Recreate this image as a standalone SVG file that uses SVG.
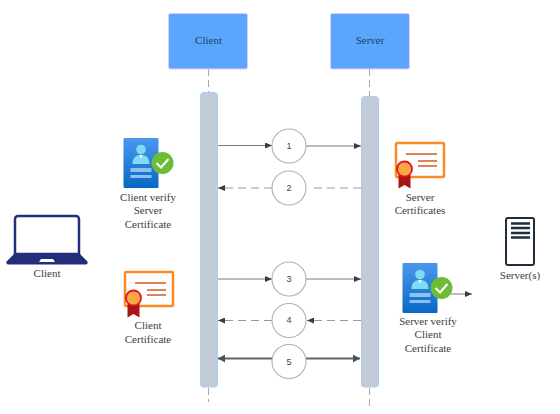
<svg xmlns="http://www.w3.org/2000/svg" width="560" height="414" viewBox="0 0 560 414">
<style>
text{font-family:"Liberation Serif","Times New Roman",serif;font-size:11px;fill:#3e3e3e;text-anchor:middle}
.hd{fill:#5aa5fd;stroke:#e8c8f8;stroke-width:1}
.bar{fill:#c3ccd6;stroke:#a5cdf5;stroke-width:1}
.life{stroke:#a8a8a8;stroke-width:1;stroke-dasharray:7 4;fill:none}
.c{fill:#fff;stroke:#b0b0b0;stroke-width:1.100}
.s{stroke:#7a7a7a;stroke-width:1;fill:none}
.d{stroke:#9a9a9a;stroke-width:1;stroke-dasharray:8 5;fill:none}
.t{stroke:#5c6670;stroke-width:2;fill:none}
.n{font-family:"Liberation Sans",Arial,sans-serif;font-size:9px;fill:#444}
</style>
<defs>
<marker id="a" markerWidth="8" markerHeight="6" refX="7" refY="3" orient="auto" markerUnits="userSpaceOnUse"><path d="M0 0L7 3L0 6z" fill="#3c3c3c"/></marker>
<marker id="b" markerWidth="8" markerHeight="8" refX="7" refY="4" orient="auto" markerUnits="userSpaceOnUse"><path d="M0 0L7 4L0 8z" fill="#4a545e"/></marker>
<linearGradient id="g" x1="0" y1="0" x2="0" y2="1"><stop offset="0" stop-color="#4a98ee"/><stop offset="1" stop-color="#0868c4"/></linearGradient>
<g id="verify">
<rect x="0" y="0" width="35" height="50" rx="1" fill="url(#g)"/>
<circle cx="17.500" cy="11.500" r="4.800" fill="#7fdcf5"/>
<path d="M9 26c0-6 3-9 8.500-9s8.500 3 8.500 9z" fill="#7fdcf5"/>
<path d="M16 17h3l-1.500 4z" fill="#fff"/>
<rect x="7" y="30" width="21" height="4" fill="#8fc0f2"/>
<rect x="7" y="37" width="21" height="3" fill="#8fc0f2"/>
<circle cx="39" cy="25" r="11" fill="#6cbd35"/>
<path d="M33 25l4.500 4.500L45 21" fill="none" stroke="#fff" stroke-width="2"/>
</g>
<g id="cert">
<rect x="1" y="1" width="48" height="34" rx="1" fill="#fff" stroke="#fb8b24" stroke-width="2.500"/>
<path d="M11 12h31M23 19h19M23 24h19" stroke="#d4581c" stroke-width="1.600" fill="none"/>
<path d="M3.500 33v13.500l6-3.500 6 3.500V33z" fill="#a81616"/>
<circle cx="9.500" cy="27" r="7.500" fill="#fba948" stroke="#e8141c" stroke-width="1.800"/>
</g>
</defs>
<g id="connectors">
<path class="life" d="M208.500 69V92"/>
<path class="life" d="M208.500 388V402"/>
<path class="life" d="M369.500 69V96"/>
<path class="life" d="M369.500 388V406"/>
<path class="s" d="M217 145.500H272" marker-end="url(#a)"/>
<path class="s" d="M306 146H361" marker-end="url(#a)"/>
<path class="d" d="M272 188H218" marker-end="url(#a)"/>
<path class="d" d="M361 188H309"/>
<path class="s" d="M217 279H272" marker-end="url(#a)"/>
<path class="s" d="M306 279H361" marker-end="url(#a)"/>
<path class="d" d="M272 320.500H218" marker-end="url(#a)"/>
<path class="d" d="M361 320.500H307" marker-end="url(#a)"/>
<path class="t" d="M272 358.500H218" marker-end="url(#b)"/>
<path class="t" d="M306 358.500H360" marker-end="url(#b)"/>
<path class="s" d="M440 294H472" marker-end="url(#a)"/>
</g>
<g id="client-header"><rect class="hd" x="168.500" y="13.500" width="79" height="55.500" rx="2"/><text x="208.500" y="44" style="fill:#25405f">Client</text></g>
<g id="server-header"><rect class="hd" x="330.500" y="13.500" width="79" height="55.500" rx="2"/><text x="370" y="44" style="fill:#25405f">Server</text></g>
<g id="client-bar"><rect class="bar" x="200.500" y="92.500" width="17" height="294.500" rx="3"/></g>
<g id="server-bar"><rect class="bar" x="361.500" y="96.500" width="17" height="290.500" rx="3"/></g>
<g id="step1"><circle class="c" cx="289" cy="146" r="17"/><text class="n" x="289" y="149">1</text></g>
<g id="step2"><circle class="c" cx="289" cy="188" r="17"/><text class="n" x="289" y="191">2</text></g>
<g id="step3"><circle class="c" cx="289" cy="279" r="17"/><text class="n" x="289" y="282">3</text></g>
<g id="step4"><circle class="c" cx="289" cy="320.500" r="17"/><text class="n" x="289" y="323">4</text></g>
<g id="step5"><circle class="c" cx="289" cy="361.500" r="17"/><text class="n" x="289" y="364.500">5</text></g>
<g id="client-verify"><use href="#verify" x="123.500" y="138"/><text x="148" y="201">Client verify</text><text x="148" y="214">Server</text><text x="148" y="228">Certificate</text></g>
<g id="server-cert"><use href="#cert" x="395" y="142"/><text x="420" y="201">Server</text><text x="420" y="214">Certificates</text></g>
<g id="client-cert"><use href="#cert" x="124" y="271"/><text x="148" y="329">Client</text><text x="148" y="343">Certificate</text></g>
<g id="server-verify"><use href="#verify" x="402.500" y="263"/><text x="428" y="325">Server verify</text><text x="428" y="338">Client</text><text x="428" y="352">Certificate</text></g>
<g id="laptop">
<path d="M15 219a3 3 0 0 1 3-3h58a3 3 0 0 1 3 3v35H15z" fill="#fff" stroke="#232d7c" stroke-width="2.500"/>
<path d="M14 254h66l7 7a2 2 0 0 1-1 3.500H8a2 2 0 0 1-1-3.500z" fill="#232d7c"/>
<path d="M39 262l2-3h12l2 3z" fill="#fff"/>
<text x="47" y="277">Client</text>
</g>
<g id="server">
<rect x="506" y="218" width="28" height="47" rx="2" fill="#fff" stroke="#1f2d3d" stroke-width="2"/>
<path d="M511 223.500h19M511 228h19M511 233h19M511 237.500h19" stroke="#1f2d3d" stroke-width="2.500" fill="none"/>
<text x="520" y="279">Server(s)</text>
</g>
</svg>
